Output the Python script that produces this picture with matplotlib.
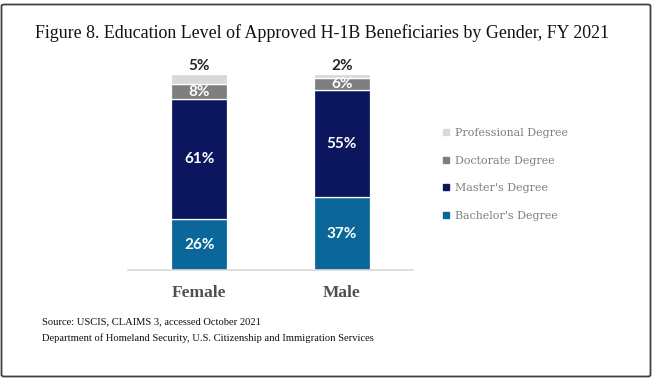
import matplotlib
matplotlib.use("Agg")
import matplotlib.pyplot as plt
from matplotlib.patches import FancyBboxPatch
from matplotlib.lines import Line2D

genders = ["Female", "Male"]
levels = ["Bachelor's Degree", "Master's Degree", "Doctorate Degree", "Professional Degree"]
bachelor = [26, 37]
master = [61, 55]
doctorate = [8, 6]
professional = [5, 2]
series = [bachelor, master, doctorate, professional]
colors = ["#0B6699", "#0B165E", "#7F7F7F", "#D9D9D9"]
label_colors = ["white", "white", "white", "#262626"]

W, H = 655, 380
fig = plt.figure(figsize=(W / 100, H / 100), dpi=100)

def fx(px):
    return px / W

def fy(py):
    return 1 - py / H

# figure border
border = FancyBboxPatch((fx(1.5), fy(376.5)), fx(650.5 - 1.5), (376.5 - 4.5) / H,
                        boxstyle="round,pad=0,rounding_size=0.004",
                        transform=fig.transFigure, fill=False,
                        edgecolor="#404040", linewidth=1.3)
fig.patches.append(border)

ax = fig.add_axes([fx(128), fy(270), fx(413 - 128), 196 / H])
x = list(range(len(genders)))
bottoms = [0] * len(genders)
bar_containers = []
for vals, col, lab in zip(series, colors, levels):
    bc = ax.bar(x, vals, bottom=bottoms, width=0.39, color=col,
                edgecolor="white", linewidth=0.9, label=lab)
    bar_containers.append(bc)
    bottoms = [b + v for b, v in zip(bottoms, vals)]

ax.set_xlim(-0.5, 1.5)
ax.set_ylim(0, 100)

# data labels
for i, (vals, lc) in enumerate(zip(series, label_colors)):
    bc = bar_containers[i]
    if i < 3:
        ax.bar_label(bc, labels=[f"{v}%" for v in vals], label_type="center",
                     color=lc, fontsize=11, fontweight="bold", family="Lato")
    else:
        ax.bar_label(bc, labels=[f"{v}%" for v in vals], label_type="edge",
                     padding=1, color=lc, fontsize=11, fontweight="bold", family="Lato")

for s in ["top", "left", "right"]:
    ax.spines[s].set_visible(False)
ax.spines["bottom"].set_color("#D9D9D9")
ax.spines["bottom"].set_linewidth(1.2)
ax.set_yticks([])
ax.set_xticks(x)
ax.set_xticklabels(genders, fontsize=12.5, fontweight="bold", family="Liberation Serif",
                   color="#505050")
ax.tick_params(axis="x", length=0, pad=11)

# legend
handles = [Line2D([], [], marker="s", linestyle="none", markersize=4.5,
                  markerfacecolor=c, markeredgecolor=c) for c in colors]
leg = fig.legend(handles[::-1], levels[::-1], loc="upper left",
                 bbox_to_anchor=(fx(443), fy(128)), frameon=False,
                 prop={"family": "DejaVu Serif", "size": 7.9},
                 handlelength=0.6, handletextpad=0.45, labelspacing=1.6,
                 borderaxespad=0, borderpad=0)
for t in leg.get_texts():
    t.set_color("#7F7F7F")

fig.text(fx(322), fy(33), "Figure 8. Education Level of Approved H-1B Beneficiaries by Gender, FY 2021",
         ha="center", va="center", family="Liberation Serif", fontsize=12.9, color="#111111")
fig.text(fx(42), fy(322), "Source: USCIS, CLAIMS 3, accessed October 2021",
         ha="left", va="center", family="Liberation Serif", fontsize=7.6, color="#111111")
fig.text(fx(42), fy(338), "Department of Homeland Security, U.S. Citizenship and Immigration Services",
         ha="left", va="center", family="Liberation Serif", fontsize=7.6, color="#111111")

fig.savefig("out.png", dpi=100)
